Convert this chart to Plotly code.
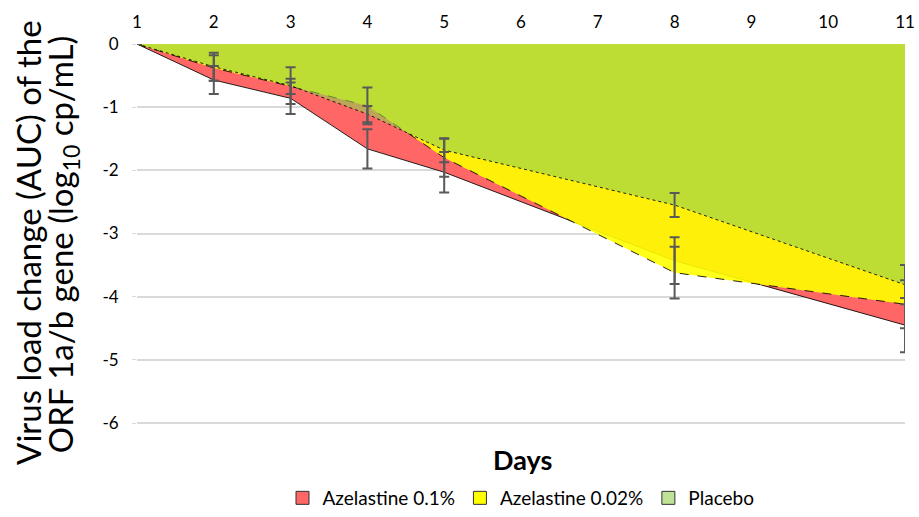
import plotly.graph_objects as go

# Sampling days and mean virus-load change per arm (log10 cp/mL)
days = [1, 2, 3, 4, 5, 8, 11]
aze_01 = [0, -0.57, -0.86, -1.66, -2.03, -3.43, -4.45]
aze_01_err = [0, 0.22, 0.25, 0.31, 0.32, 0.37, 0.43]
aze_002 = [0, -0.38, -0.67, -0.98, -1.80, -3.62, -4.12]
aze_002_err = [0, 0.20, 0.12, 0.29, 0.30, 0.41, 0.38]
placebo = [0, -0.36, -0.66, -1.11, -1.68, -2.55, -3.81]
placebo_err = [0, 0.22, 0.29, 0.13, 0.19, 0.19, 0.31]

y_ticks = [0, -1, -2, -3, -4, -5, -6]
y_ticklabels = ["0", "-1", "-2", "-3", "-4", "-5", "-6"]
x_ticks = list(range(1, 12))

series = [
    ("Azelastine 0.1%", aze_01, aze_01_err, "rgb(255,102,102)", "solid"),
    ("Azelastine 0.02%", aze_002, aze_002_err, "rgba(255,255,0,0.9)", "dash"),
    ("Placebo", placebo, placebo_err, "rgba(146,208,80,0.6)", "dot"),
]

FONT = "Lato, Calibri, Arial, sans-serif"
fig = go.Figure()

# overlapping areas, each filled down from zero
for name, vals, _, fill, dash in series:
    fig.add_trace(go.Scatter(
        x=days, y=vals, name=name, mode="lines", showlegend=False,
        fill="tozeroy", fillcolor=fill,
        line=dict(color="rgba(0,0,0,0.85)", width=1, dash=dash),
    ))

# error bars on top of all filled areas
for name, vals, err, _, _ in series:
    fig.add_trace(go.Scatter(
        x=days, y=vals, mode="markers", showlegend=False, hoverinfo="skip",
        marker=dict(size=1, color="rgba(0,0,0,0)"),
        error_y=dict(type="data", array=err, visible=True,
                     color="#595959", thickness=2, width=5),
    ))

# square legend swatches
for name, _, _, fill, _ in series:
    swatch = fill.replace("0.9)", "1)")
    fig.add_trace(go.Scatter(
        x=[None], y=[None], name=name, mode="markers",
        marker=dict(symbol="square", size=13, color=swatch,
                    line=dict(color="#333", width=1)),
    ))

fig.update_layout(
    width=919, height=517,
    margin=dict(l=137, r=14, t=44, b=75, autoexpand=False),
    paper_bgcolor="white", plot_bgcolor="white",
    font=dict(family=FONT, size=17, color="#000"),
    showlegend=True,
    legend=dict(orientation="h", x=0.5, xanchor="center",
                yref="container", y=0, yanchor="bottom",
                font=dict(size=19), traceorder="normal",
                itemwidth=30, tracegroupgap=0),
    xaxis=dict(side="top", range=[1, 11], tickvals=x_ticks,
               showgrid=False, zeroline=False, showline=False,
               tickfont=dict(size=17), ticks="", ticklabelstandoff=12),
    yaxis=dict(range=[-6.3, 0], tickvals=y_ticks, ticktext=y_ticklabels,
               showgrid=True, gridcolor="#d9d9d9", gridwidth=1.5,
               zeroline=False, showline=False, ticks="outside", ticklen=4,
               tickcolor="#d9d9d9", tickfont=dict(size=17),
               ticklabelstandoff=10),
    annotations=[
        dict(text="Virus load change (AUC) of the",
             xref="paper", yref="paper", x=-0.142, y=0.5025, textangle=-90,
             showarrow=False, font=dict(size=33), xanchor="center", yanchor="middle"),
        dict(text="ORF 1a/b gene (log<sub>10</sub> cp/mL)",
             xref="paper", yref="paper", x=-0.096, y=0.4975, textangle=-90,
             showarrow=False, font=dict(size=33), xanchor="center", yanchor="middle"),
        dict(text="<b>Days</b>", xref="paper", yref="paper", x=0.5026, y=-0.045,
             showarrow=False, font=dict(size=27), xanchor="center", yanchor="middle"),
    ],
)

fig.write_html("out.html")
